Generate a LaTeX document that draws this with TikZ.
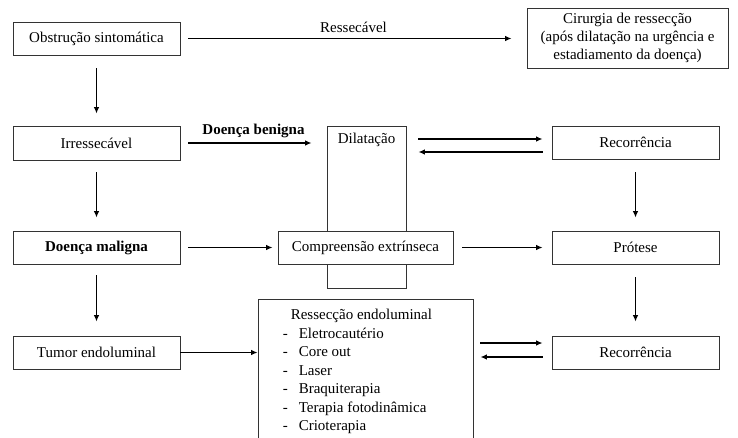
\documentclass[tikz,border=0pt]{standalone}
\usepackage{fontspec}
\setmainfont{Liberation Serif}
\usetikzlibrary{arrows.meta,calc}

\tikzset{
  box/.style={draw=black!80, line width=0.8pt, fill=white, inner sep=0pt,
              minimum width=167pt, minimum height=33pt},
  arr/.style={line width=1.6pt, -{Latex[length=6.5pt,width=5.5pt]}}
}

\begin{document}
\begin{tikzpicture}[x=1pt,y=-1pt,font=\fontsize{15}{18}\selectfont]
        \useasboundingbox (0,0) rectangle (738,437);
        \clip (0,0) rectangle (738,437);

        %left column
        \node[box] (obs) at (96.5,38.5) {Obstrução sintomática};
        \node[box, minimum height=34pt] (irr) at (96.5,143) {Irressecável};
        \node[box] (mal) at (96.5,247.5) {\textbf{Doença maligna}};
        \node[box] (tum) at (96.5,352.5) {Tumor endoluminal};

        %middle column
        \node[box, minimum width=79pt, minimum height=162pt,
              label={[anchor=north,yshift=-4pt]north:Dilatação}] (dil) at (366.5,207) {};
        \node[box, minimum width=175pt] (comp) at (365.5,247.5) {Compreensão extrínseca};
        \node[box, minimum width=215pt, minimum height=150pt] (res) at (365.5,374) {};
        \node[anchor=north west, inner sep=0pt, font=\fontsize{15}{18.5}\selectfont]
              (reslist) at ($(res.north west)+(25,8)$) {%
          \begin{tabular}{@{}l@{\hspace{11pt}}l@{}}
            \multicolumn{2}{@{\hspace{8pt}}l@{}}{Ressecção endoluminal}\\
            - & Eletrocautério\\
            - & Core out\\
            - & Laser\\
            - & Braquiterapia\\
            - & Terapia fotodinâmica\\
            - & Crioterapia
          \end{tabular}};

        %right column
        \node[box, minimum width=201pt, minimum height=60pt, align=center] (cir) at (627.5,38)
              {Cirurgia de ressecção\\(após dilatação na urgência e\\estadiamento da doença)};
        \node[box] (rec1) at (635.5,142.5) {Recorrência};
        \node[box] (pro) at (635.5,247.5) {Prótese};
        \node[box] (rec2) at (635.5,352.5) {Recorrência};

        %horizontal arrows
        \draw[arr, shorten <=8pt, shorten >=15pt] (obs.east) -- (obs.east -| cir.west)
              node[midway, above=2pt] {Ressecável};
        \draw[arr, shorten <=8pt, shorten >=15pt] (irr.east) -- (irr.east -| dil.west)
              node[midway, above=1pt] {\textbf{Doença benigna}};
        \draw[arr, shorten <=12pt, shorten >=9pt] ($(dil.east |- rec1.west)+(0,-3.5)$) -- ($(rec1.west)+(0,-3.5)$);
        \draw[arr, shorten <=9pt, shorten >=12pt] ($(rec1.west)+(0,9.5)$) -- ($(dil.east |- rec1.west)+(0,9.5)$);
        \draw[arr, shorten <=8pt, shorten >=5pt] (mal.east) -- (comp.west);
        \draw[arr, shorten <=9pt, shorten >=9pt] (comp.east) -- (pro.west);
        \draw[arr] (tum.east) -- (tum.east -| res.west);
        \draw[arr, shorten <=7pt, shorten >=9pt] ($(res.east |- rec2.west)+(0,-9.5)$) -- ($(rec2.west)+(0,-9.5)$);
        \draw[arr, shorten <=9pt, shorten >=7pt] ($(rec2.west)+(0,4.5)$) -- ($(res.east |- rec2.west)+(0,4.5)$);

        %vertical arrows
        \draw[arr, shorten <=13pt, shorten >=12pt] (obs.south) -- (irr.north);
        \draw[arr, shorten <=12pt, shorten >=13pt] (irr.south) -- (mal.north);
        \draw[arr, shorten <=11pt, shorten >=14pt] (mal.south) -- (tum.north);
        \draw[arr, shorten <=13pt, shorten >=13pt] (rec1.south) -- (pro.north);
        \draw[arr, shorten <=13pt, shorten >=14pt] (pro.south) -- (rec2.north);
    \end{tikzpicture}
\end{document}
